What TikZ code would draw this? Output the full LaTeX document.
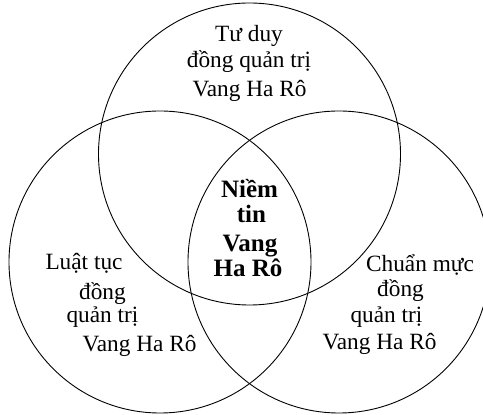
\documentclass[tikz,border=0pt]{standalone}
\usepackage{fontspec}
\setmainfont{Liberation Serif}
\begin{document}
\begin{tikzpicture}[x=1pt,y=1pt,
  ring/.style={circle,draw=black,line width=0.9pt,minimum size=302pt,inner sep=0pt},
  lbl/.style={anchor=base,inner sep=0pt,font=\fontsize{23.3}{27}\selectfont},
  blbl/.style={anchor=base,inner sep=0pt,font=\fontsize{25}{27}\selectfont\bfseries}]
\useasboundingbox (0,0) rectangle (483,415);
\clip (0,0) rectangle (483,415);
\node[ring] (ctop) at (249.5,261) {};
\node[ring] (cleft) at (160,153) {};
\node[ring] (cright) at (339,153) {};
% top
\node[lbl] (t1) at (249,373) {Tư duy};
\node[lbl] (t2) at (249,347) {đồng quản trị};
\node[lbl] (t3) at (249.5,318) {Vang Ha Rô};
% left
\node[lbl] (l1) at (84,145) {Luật tục};
\node[lbl] (l2) at (102.5,115) {đồng};
\node[lbl] (l3) at (102.5,92) {quản trị};
\node[lbl] (l4) at (139.5,63) {Vang Ha Rô};
% right
\node[lbl] (r1) at (420,143) {Chuẩn mực};
\node[lbl] (r2) at (400.5,118) {đồng};
\node[lbl] (r3) at (386.5,92) {quản trị};
\node[lbl] (r4) at (379.5,65) {Vang Ha Rô};
% center
\node[blbl] (c1) at (249.5,217) {Niềm};
\node[blbl] (c2) at (251.5,192) {tin};
\node[blbl] (c3) at (250,163) {Vang};
\node[blbl] (c4) at (248,138) {Ha Rô};
\end{tikzpicture}
\end{document}
